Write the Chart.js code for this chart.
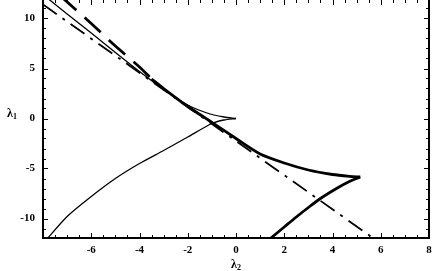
<!DOCTYPE html>
<html>
<head>
<meta charset="utf-8">
<script src="https://cdn.jsdelivr.net/npm/chart.js@4.4.0/dist/chart.umd.min.js"></script>
<style>
  html, body { margin: 0; padding: 0; background: #fff; }
</style>
</head>
<body>
<canvas id="phase-chart" width="438" height="271"></canvas>
<script>
// Thin solid curve: upper branch, from the top left down to the cusp
var thinUpperX = [-7.9, -7, -6, -5, -4, -3, -2, -1.2, -0.5, 0];
var thinUpperY = [12.2, 10.45, 8.55, 6.6, 4.7, 2.9, 1.35, 0.55, 0.15, 0];

// Thin solid curve: lower branch, from the cusp back down to the bottom left
var thinLowerX = [0, -0.5, -1, -2, -3, -4, -5, -6, -7, -7.85];
var thinLowerY = [0, -0.15, -0.5, -1.85, -3.2, -4.5, -6.0, -7.8, -9.8, -12.1];

// Thick curve, long dashed part (top left)
var dashedX = [-7.3, -6, -5, -4, -3.5];
var dashedY = [12.3, 9.5, 7.25, 5.15, 3.95];

// Thick curve, solid part: down to the cusp near (5.2, -5.9) ...
var thickUpperX = [-3.5, -3, -2, -1, 0, 1, 2, 3, 4, 4.7, 5.15];
var thickUpperY = [3.95, 3.0, 1.2, -0.38, -2.0, -3.55, -4.45, -5.15, -5.6, -5.78, -5.85];

// ... and back from the cusp to the bottom axis
var thickLowerX = [5.15, 4.7, 4.2, 3.5, 3.0, 2.5, 2.0, 1.4];
var thickLowerY = [-5.85, -6.3, -6.95, -8.0, -8.9, -9.85, -10.85, -12.05];

// Straight dash-dot line
var dashDotX = [-8, 5.71];
var dashDotY = [11.4, -12];

// Tick labels
var xLabelTicks = [-6, -4, -2, 0, 2, 4, 6, 8];
var yLabelTicks = [-10, -5, 0, 5, 10];

var labelFont = { family: '"Liberation Serif", "Times New Roman", serif', size: 11, weight: 'bold' };

function toPoints(xs, ys) {
  return xs.map(function (x, i) { return { x: x, y: ys[i] }; });
}

function curve(xs, ys, width, dash) {
  return {
    data: toPoints(xs, ys),
    showLine: true,
    borderColor: '#000',
    backgroundColor: '#000',
    borderWidth: width,
    borderDash: dash || [],
    pointRadius: 0,
    tension: 0.25,
    fill: false
  };
}

// Frame with inward ticks on all four sides, plus the axis labels
var framePlugin = {
  id: 'frame',
  afterDraw: function (chart) {
    var ctx = chart.ctx;
    var area = chart.chartArea;
    var xs = chart.scales.x;
    var ys = chart.scales.y;
    var i, v, p, len;

    ctx.save();
    ctx.strokeStyle = '#000';
    ctx.lineWidth = 2;
    ctx.beginPath();
    ctx.moveTo(area.left, area.top - 2);
    ctx.lineTo(area.left, area.bottom);
    ctx.lineTo(area.right, area.bottom);
    ctx.lineTo(area.right, area.top - 2);
    ctx.stroke();

    ctx.lineWidth = 1;
    ctx.beginPath();
    // x ticks every 0.5, longer every 2
    for (i = -16; i <= 16; i++) {
      v = i / 2;
      p = Math.round(xs.getPixelForValue(v)) + 0.5;
      len = (i % 4 === 0) ? 5 : 3;
      ctx.moveTo(p, area.bottom);
      ctx.lineTo(p, area.bottom - len);
      ctx.moveTo(p, area.top);
      ctx.lineTo(p, area.top + len);
    }
    // y ticks every 1, longer every 5
    for (i = -11; i <= 11; i++) {
      p = Math.round(ys.getPixelForValue(i)) + 0.5;
      len = (i % 5 === 0) ? 5 : 3;
      ctx.moveTo(area.left, p);
      ctx.lineTo(area.left + len, p);
      ctx.moveTo(area.right, p);
      ctx.lineTo(area.right - len, p);
    }
    ctx.stroke();

    // axis labels
    ctx.fillStyle = '#000';
    ctx.textBaseline = 'alphabetic';
    ctx.textAlign = 'left';
    ctx.font = 'bold 12px "Liberation Serif", serif';
    ctx.fillText('λ', 231, 268);
    ctx.fillText('λ', 7, 117);
    ctx.font = 'bold 8px "Liberation Serif", serif';
    ctx.fillText('2', 237, 270);
    ctx.fillText('1', 13, 119);
    ctx.restore();
  }
};

var chartConfig = {
  type: 'scatter',
  data: {
    datasets: [
      curve(thinUpperX, thinUpperY, 1.3),
      curve(thinLowerX, thinLowerY, 1.3),
      curve(dashedX, dashedY, 2.8, [22, 11]),
      curve(thickUpperX, thickUpperY, 2.8),
      curve(thickLowerX, thickLowerY, 2.8),
      curve(dashDotX, dashDotY, 1.8, [17, 7, 3, 7])
    ]
  },
  options: {
    responsive: false,
    animation: false,
    devicePixelRatio: 1,
    layout: {
      padding: { top: 0, right: 9, bottom: 0, left: 0 }
    },
    plugins: {
      legend: { display: false },
      tooltip: { enabled: false }
    },
    scales: {
      x: {
        type: 'linear',
        position: 'bottom',
        min: -8,
        max: 8,
        grid: { display: false, drawTicks: false },
        border: { display: false },
        ticks: { color: '#000', font: labelFont, padding: 6, maxRotation: 0 },
        afterBuildTicks: function (scale) {
          scale.ticks = xLabelTicks.map(function (v) { return { value: v }; });
        },
        afterFit: function (scale) {
          scale.height = 33;
          scale.paddingLeft = 0;
          scale.paddingRight = 0;
        }
      },
      y: {
        type: 'linear',
        position: 'left',
        min: -11.95,
        max: 11.85,
        grid: { display: false, drawTicks: false },
        border: { display: false },
        ticks: { color: '#000', font: labelFont, padding: 8 },
        afterBuildTicks: function (scale) {
          scale.ticks = yLabelTicks.map(function (v) { return { value: v }; });
        },
        afterFit: function (scale) {
          scale.width = 43;
          scale.paddingTop = 0;
          scale.paddingBottom = 0;
        }
      }
    }
  },
  plugins: [framePlugin]
};

var phaseChart = new Chart(document.getElementById('phase-chart'), chartConfig);
</script>
</body>
</html>
